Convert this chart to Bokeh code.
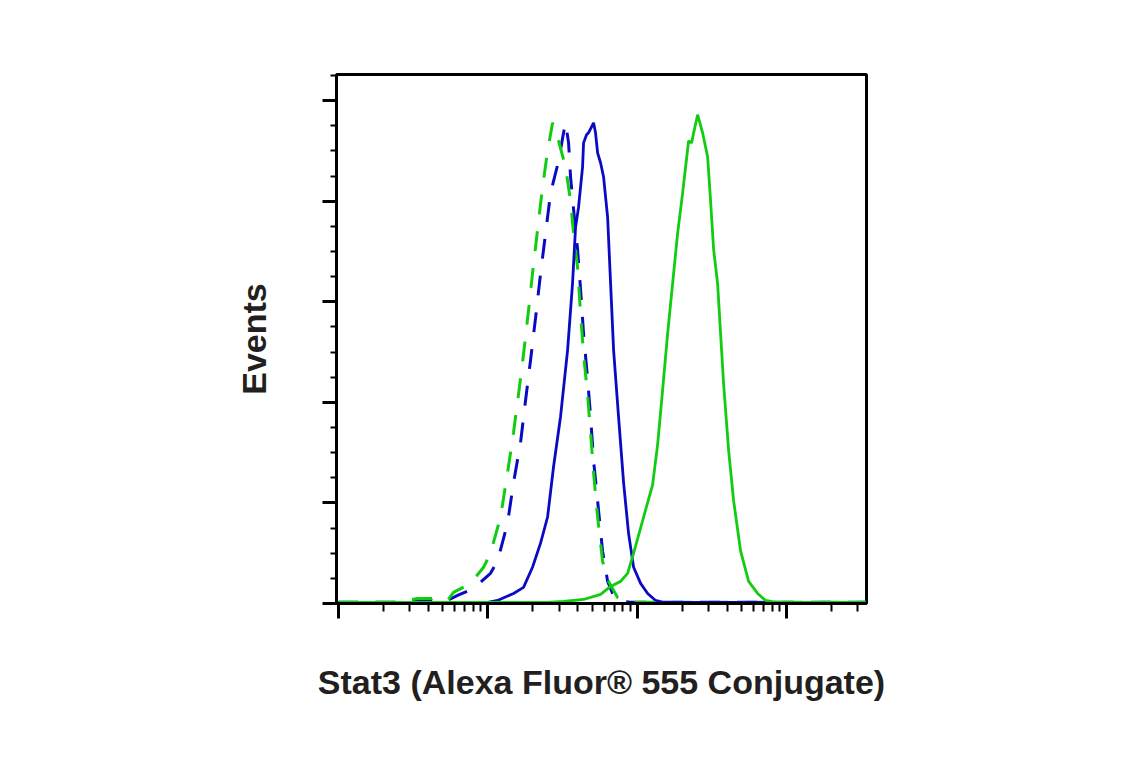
from bokeh.plotting import figure
from bokeh.models import Range1d, FixedTicker
from bokeh.embed import file_html
from bokeh.resources import INLINE

# ---- data (fluorescence intensity vs events) ----
blue_solid_x = [100, 1000, 1161, 1486, 1734, 1991, 2254, 2512, 2754, 3069, 3420, 3690, 3866, 4049,
                4307, 4375, 4581, 4721, 5105, 5260, 5433, 5689, 5957, 6339, 6637, 6950, 7499,
                8110, 8750, 9462, 10540, 11750, 13280, 15000, 340000]
blue_solid_y = [0.6, 0.6, 1.5, 5, 8, 18, 30, 43, 68, 93, 126, 159, 187, 197,
                217, 229, 233, 234, 239, 234, 224, 219, 212, 192, 159, 126, 93,
                60, 35, 18, 10, 5, 1.5, 0.6, 0.6]

blue_dash_x = [100, 250, 338, 394, 460, 537, 627, 802, 1042, 1161, 1355, 1486, 1656, 1789, 1932,
               2087, 2254, 2435, 2630, 2976, 3214, 3313, 3472, 3581, 3750, 3990, 4178, 4375,
               4652, 4875, 5105, 5433, 5865, 6339, 6843, 7389, 9000, 340000]
blue_dash_y = [0.6, 0.6, 1.5, 2, 1, 1.5, 4, 7.5, 15, 21, 40, 60, 80, 101, 121,
               142, 164, 184, 204, 220, 234, 239, 229, 212, 196, 176, 156, 134,
               112, 93, 71, 51, 26, 11, 5, 1.5, 0.6, 0.6]

green_dash_x = [100, 250, 338, 433, 537, 589, 766, 936, 1042, 1216, 1355, 1486, 1605, 1734, 1874,
                1991, 2153, 2325, 2512, 2713, 2976, 3313, 3581, 3750, 3990, 4178, 4375, 4652,
                4875, 5105, 5433, 5865, 6432, 7389, 9000, 340000]
green_dash_y = [0.6, 0.6, 2.5, 2.5, 1.5, 5.5, 10, 18, 25, 43, 65, 85, 104, 124, 146,
                164, 186, 207, 225, 239, 230, 217, 200, 184, 167, 144, 124, 104,
                85, 65, 43, 21, 11, 3, 0.6, 0.6]

green_solid_x = [100, 2500, 3214, 4375, 5689, 6637, 7745, 8625, 9462, 11040, 12680, 13700, 14790,
                 15980, 17260, 18650, 20140, 21090, 22090, 23140, 23880, 25390, 27420, 29620,
                 31010, 32490, 34550, 36190, 37910, 40950, 44230, 49270, 55720, 64040, 72440,
                 85000, 340000]
green_solid_y = [0.6, 0.6, 1, 2, 4.5, 8.5, 11, 15, 25, 43, 59, 79, 106,
                 134, 159, 184, 204, 217, 230, 229, 234, 243, 234, 222,
                 200, 176, 159, 134, 109, 76, 51, 26, 11, 5, 1.5,
                 0.6, 0.6]

x_major = [100, 1000, 10000, 100000]
x_minor = [m * d for d in (100, 1000, 10000) for m in range(2, 10)] + [200000, 300000]
y_major = [0, 50, 100, 150, 200, 250]
y_minor = [i * 12.5 for i in range(0, 22)]

BLUE = "#0a0ac4"
GREEN = "#12cc12"
TXT = "#231f20"
FONT = "Liberation Sans"

p = figure(frame_width=530, frame_height=529, x_axis_type="log",
           x_range=Range1d(97, 343000), y_range=Range1d(0, 263),
           output_backend="svg", toolbar_location=None,
           min_border_left=336, min_border_top=74, min_border_right=259, min_border_bottom=157)

p.background_fill_color = "white"
p.border_fill_color = "white"
p.xgrid.visible = False
p.ygrid.visible = False
p.outline_line_color = "black"
p.outline_line_width = 3
p.outline_line_alpha = 1

p.line(blue_dash_x, blue_dash_y, line_color=BLUE, line_width=3, line_dash="20 17")
p.line(green_dash_x, green_dash_y, line_color=GREEN, line_width=3, line_dash="20 17")
p.line(blue_solid_x, blue_solid_y, line_color=BLUE, line_width=2.8)
p.line(green_solid_x, green_solid_y, line_color=GREEN, line_width=2.8)

xa = p.xaxis[0]
xa.ticker = FixedTicker(ticks=x_major, minor_ticks=x_minor)
ya = p.yaxis[0]
ya.ticker = FixedTicker(ticks=y_major, minor_ticks=y_minor)

for ax in (xa, ya):
    ax.axis_line_width = 3
    ax.axis_line_color = "black"
    ax.major_tick_line_width = 3
    ax.minor_tick_line_width = 2
    ax.major_tick_in = 0
    ax.minor_tick_in = 0
    ax.major_label_text_font_size = "2px"
    ax.major_label_text_alpha = 0
    ax.major_label_standoff = 0
    ax.axis_label_text_font = FONT
    ax.axis_label_text_font_style = "bold"
    ax.axis_label_text_font_size = "34px"
    ax.axis_label_text_color = TXT

xa.major_tick_out = 15
xa.minor_tick_out = 8
ya.major_tick_out = 14
ya.minor_tick_out = 6

xa.axis_label = "Stat3 (Alexa Fluor® 555 Conjugate)"
ya.axis_label = "Events"
xa.axis_label_standoff = 44
ya.axis_label_standoff = 50

open("out.html", "w").write(file_html(p, INLINE))
